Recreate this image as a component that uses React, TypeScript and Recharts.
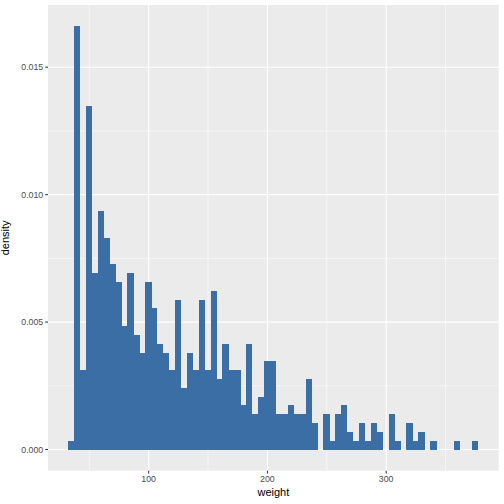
import React from 'react';
import { BarChart, Bar, XAxis, YAxis, CartesianGrid, Label } from 'recharts';

// Histogram of chick weights (binwidth 5), counts
const binCenters = [
  35, 40, 45, 50, 55, 60, 65, 70, 75, 80, 85, 90, 95, 100, 105, 110, 115, 120, 125, 130,
  135, 140, 145, 150, 155, 160, 165, 170, 175, 180, 185, 190, 195, 200, 205, 210, 215, 220,
  225, 230, 235, 240, 245, 250, 255, 260, 265, 270, 275, 280, 285, 290, 295, 300, 305, 310,
  315, 320, 325, 330, 335, 340, 345, 350, 355, 360, 365, 370, 375,
];
const binCounts = [
  1, 48, 9, 39, 20, 27, 24, 21, 19, 14, 20, 13, 11, 19, 16, 12, 11, 9, 17, 7,
  11, 9, 17, 9, 18, 8, 12, 9, 9, 5, 12, 4, 6, 10, 10, 4, 4, 5,
  4, 4, 8, 3, 0, 4, 1, 4, 5, 2, 1, 3, 1, 3, 2, 0, 4, 1,
  0, 3, 1, 2, 0, 1, 0, 0, 0, 1, 0, 0, 1,
];
const binWidth = 5;
const totalCount = binCounts.reduce((a, b) => a + b, 0);

const xMajorTicks = [100, 200, 300];
const xMinorTicks = [50, 150, 250, 350];
const yMajorTicks = [0, 0.005, 0.01, 0.015];
const yMinorTicks = [0.0025, 0.0075, 0.0125];

const xDomain: [number, number] = [15.25, 394.75];
const yDomain: [number, number] = [-0.00083045, 0.01743945];

const data = binCenters.map((w, i) => ({
  weight: w,
  density: binCounts[i] / (totalCount * binWidth),
}));

const FONT = '"Liberation Sans", Arial, Helvetica, sans-serif';
const W = 504;
const H = 504;
const plotWidth = 504 - 48 - 5.3;
const barPx = (binWidth / (xDomain[1] - xDomain[0])) * plotWidth;

const BinShape = (props: any) => {
  const { x, y, width, height, fill } = props;
  if (!height || height <= 0) return null;
  const cx = x + width / 2;
  return (
    <rect
      x={cx - barPx / 2 - 0.2}
      y={y}
      width={barPx + 0.4}
      height={height}
      fill={fill}
      stroke="none"
      shapeRendering="crispEdges"
    />
  );
};

export default function App() {
  return (
    <div style={{ position: 'absolute', left: 0, top: 0, width: W, height: H, background: '#fff' }}>
      <BarChart
        width={W}
        height={H}
        data={data}
        margin={{ top: 5, right: 5.3, bottom: 0, left: 0 }}
        barCategoryGap={0}
        barGap={0}
      >
        <CartesianGrid
          fill="#EBEBEB"
          stroke="#FFFFFF"
          strokeWidth={0.55}
          horizontalValues={yMinorTicks}
          verticalValues={xMinorTicks}
        />
        <CartesianGrid
          fill="none"
          stroke="#FFFFFF"
          strokeWidth={1.1}
          horizontalValues={yMajorTicks}
          verticalValues={xMajorTicks}
        />
        <XAxis
          dataKey="weight"
          type="number"
          domain={xDomain}
          allowDataOverflow
          ticks={xMajorTicks}
          height={33.3}
          axisLine={false}
          tickLine={{ stroke: '#333333', strokeWidth: 1.07 }}
          tickSize={2.75}
          tickMargin={2.3}
          tick={{ fill: '#4D4D4D', fontSize: 8.8, fontFamily: FONT }}
          interval={0}
        >
          <Label
            content={({ viewBox }: any) => {
              const vb = viewBox || { x: 48, y: 470.7, width: plotWidth, height: 33.3 };
              return (
                <text
                  x={vb.x + vb.width / 2}
                  y={496}
                  textAnchor="middle"
                  fontSize={11}
                  fontFamily={FONT}
                  fill="#000000"
                >
                  weight
                </text>
              );
            }}
          />
        </XAxis>
        <YAxis
          type="number"
          domain={yDomain}
          allowDataOverflow
          ticks={yMajorTicks}
          width={48}
          axisLine={false}
          tickLine={{ stroke: '#333333', strokeWidth: 1.07 }}
          tickSize={2.75}
          tickMargin={2}
          tick={{ fill: '#4D4D4D', fontSize: 8.8, fontFamily: FONT }}
          tickFormatter={(v: number) => v.toFixed(3)}
          interval={0}
        >
          <Label
            content={({ viewBox }: any) => {
              const vb = viewBox || { x: 0, y: 5, width: 48, height: 465.7 };
              const cy = vb.y + vb.height / 2;
              return (
                <text
                  x={9}
                  y={cy}
                  transform={`rotate(-90 9 ${cy})`}
                  textAnchor="middle"
                  fontSize={11}
                  fontFamily={FONT}
                  fill="#000000"
                >
                  density
                </text>
              );
            }}
          />
        </YAxis>
        <Bar
          dataKey="density"
          fill="#3A6EA5"
          barSize={barPx}
          shape={BinShape}
          isAnimationActive={false}
        />
      </BarChart>
    </div>
  );
}
